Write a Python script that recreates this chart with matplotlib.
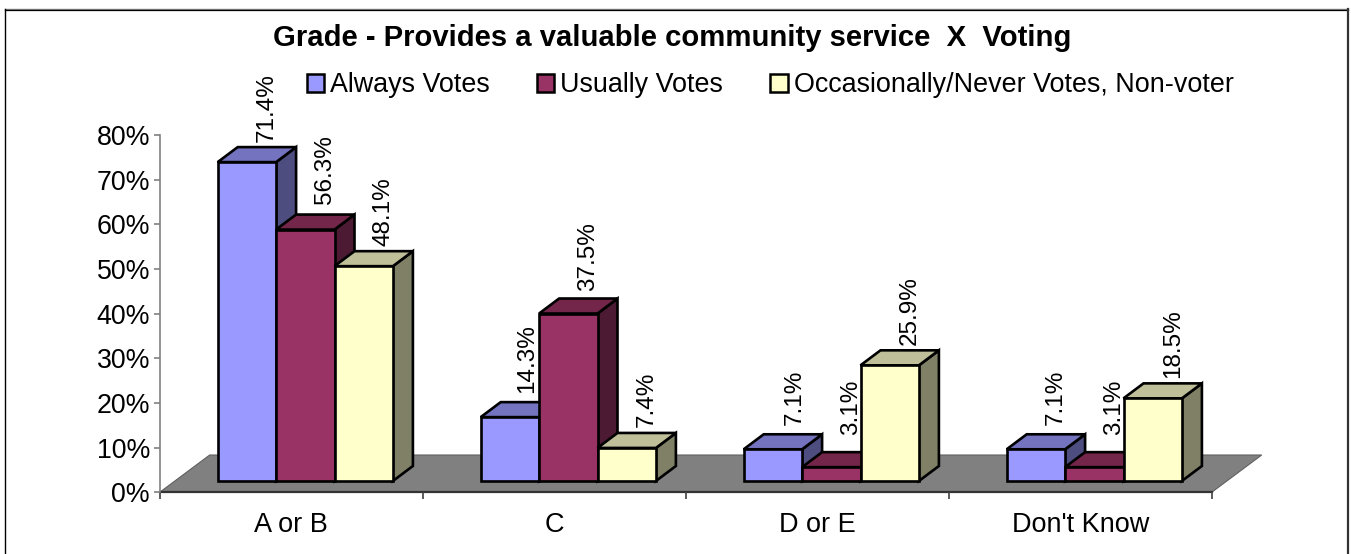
import matplotlib
matplotlib.use("Agg")
import matplotlib.pyplot as plt
from matplotlib.patches import Polygon, Patch
from matplotlib.lines import Line2D

plt.rcParams['font.family'] = ['Liberation Sans', 'DejaVu Sans']

categories = ["A or B", "C", "D or E", "Don't Know"]
series_names = ["Always Votes", "Usually Votes", "Occasionally/Never Votes, Non-voter"]
always_votes = [71.4, 14.3, 7.1, 7.1]
usually_votes = [56.3, 37.5, 3.1, 3.1]
occasional_votes = [48.1, 7.4, 25.9, 18.5]
y_ticks = [0, 10, 20, 30, 40, 50, 60, 70, 80]

W, H = 1351, 554
fig = plt.figure(figsize=(W / 100, H / 100), dpi=100, facecolor='white')
L, R, T, B = 159.7, 1211.7, 135, 492.3
ax = fig.add_axes([L / W, 1 - B / H, (R - L) / W, (B - T) / H])
ax.set_xlim(0, 4)
ax.set_ylim(0, 80)
ax.patch.set_visible(False)

px_x = 4 / (R - L)
px_y = 80 / (B - T)

# floor
fdx, fdy = 50 * px_x, 37.3 * px_y
ax.add_patch(Polygon([(0, 0), (4, 0), (4 + fdx, fdy), (fdx, fdy)], closed=True,
                     facecolor='#808080', edgecolor='#606060', lw=0.8,
                     clip_on=False, zorder=1))

faces = [('#9999FF', '#7373BF', '#4D4D80'),
         ('#993366', '#732649', '#4C1A33'),
         ('#FFFFCC', '#BFBF99', '#808066')]
all_series = [always_votes, usually_votes, occasional_votes]

start = 58 * px_x
bw = 58.4 * px_x
ddx, ddy = 20 * px_x, 15 * px_y
base = 11.3 * px_y
lw = 1.9
z = 2
label_size = 17.5
# pixel adjustments of individual value labels relative to their bars
label_nudge = {(0, 1): 5, (1, 0): 4, (1, 1): 2, (2, 0): 4, (2, 1): 12, (3, 0): 4, (3, 1): 12}
label_shift = {(1, 0): -3, (2, 0): 2}
for c in range(len(categories)):
    for s, vals in enumerate(all_series):
        v = vals[c]
        x0 = c + start + s * bw
        x1 = x0 + bw
        y0, y1 = base, base + v
        front, top, side = faces[s]
        for pts, col in (([(x1, y0), (x1 + ddx, y0 + ddy), (x1 + ddx, y1 + ddy), (x1, y1)], side),
                         ([(x0, y1), (x1, y1), (x1 + ddx, y1 + ddy), (x0 + ddx, y1 + ddy)], top),
                         ([(x0, y0), (x1, y0), (x1, y1), (x0, y1)], front)):
            ax.add_patch(Polygon(pts, closed=True, facecolor=col, edgecolor='black', lw=lw,
                                 joinstyle='miter', clip_on=False, zorder=z))
        z += 1
        ax.annotate(f"{v:.1f}%", xy=(x0 + bw / 2 + ddx, y1 + ddy),
                    xytext=(label_shift.get((c, s), 0), 5.5 + label_nudge.get((c, s), 0)),
                    textcoords='offset pixels', rotation=90, ha='center', va='bottom',
                    fontsize=label_size, color='black', zorder=100, annotation_clip=False)

ax.set_yticks(y_ticks)
ax.set_yticklabels([f"{t}%" for t in y_ticks], fontsize=19.3)
ax.set_xticks(range(5))
ax.set_xticklabels([])
ax.set_xticks([i + 0.5 for i in range(4)], minor=True)
ax.set_xticklabels(categories, minor=True, fontsize=19.5)
ax.tick_params(axis='x', which='minor', length=0, pad=14)
ax.tick_params(axis='x', which='major', length=5, width=1.2, color='#404040')
ax.tick_params(axis='y', length=4.5, width=1.2, color='#808080', pad=2.5)
for sp in ('top', 'right'):
    ax.spines[sp].set_visible(False)
ax.spines['left'].set_color('#808080')
ax.spines['left'].set_linewidth(1.2)
ax.spines['bottom'].set_color('#333333')
ax.spines['bottom'].set_linewidth(1.6)
ax.spines['bottom'].set_zorder(1.5)

fig.text(672 / W, 1 - 37.5 / H, "Grade - Provides a valuable community service  X  Voting",
         ha='center', va='center', fontsize=21.1, fontweight='bold')

handles = [Patch(facecolor=faces[i][0], edgecolor='black', lw=1.8) for i in range(3)]
fig.legend(handles, series_names, ncols=3, loc='center left',
           bbox_to_anchor=(307 / W, 1 - 85.5 / H), frameon=False, fontsize=19.35,
           handlelength=0.64, handleheight=0.62, handletextpad=0.22, columnspacing=1.76,
           borderpad=0, borderaxespad=0)

# chart frame
fig.add_artist(Line2D([5.5 / W, 1347.5 / W], [1 - 8.5 / H, 1 - 8.5 / H], color='#808080', lw=1.0))
fig.add_artist(Line2D([5.5 / W, 1347.5 / W], [1 - 9.5 / H, 1 - 9.5 / H], color='black', lw=0.9))
fig.add_artist(Line2D([5.5 / W, 5.5 / W], [1 - 9 / H, 0], color='black', lw=1.0))
fig.add_artist(Line2D([1347.5 / W, 1347.5 / W], [1 - 9 / H, 0], color='#333333', lw=1.6))

fig.savefig("out.png", dpi=100)
